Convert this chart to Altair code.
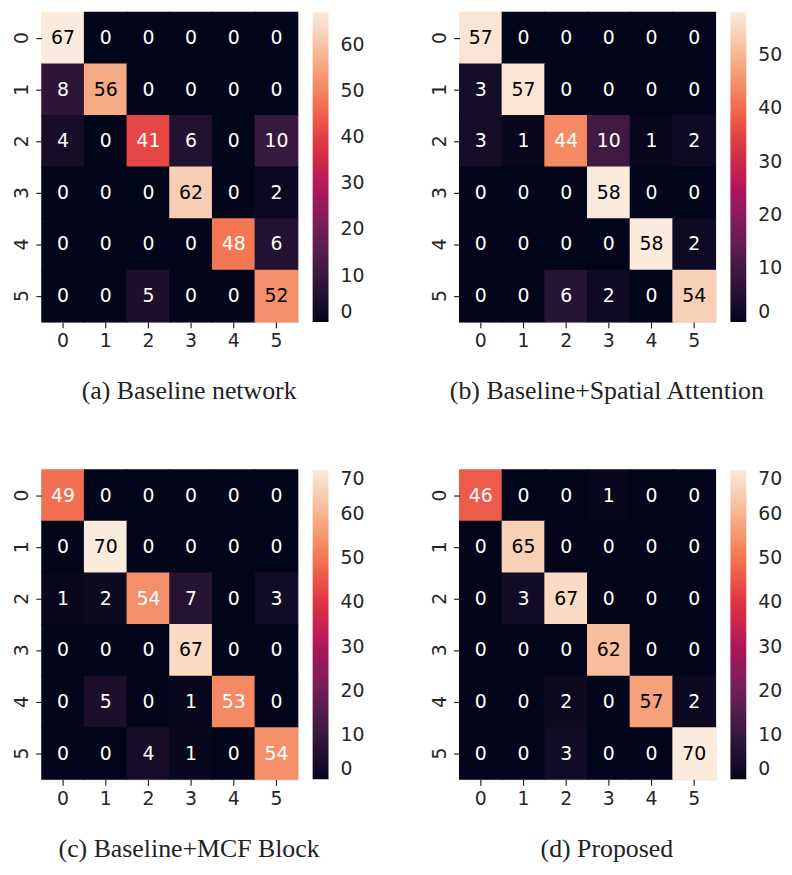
import altair as alt
import pandas as pd

CLASSES = ["0", "1", "2", "3", "4", "5"]

CM_A = [[67, 0, 0, 0, 0, 0],
        [8, 56, 0, 0, 0, 0],
        [4, 0, 41, 6, 0, 10],
        [0, 0, 0, 62, 0, 2],
        [0, 0, 0, 0, 48, 6],
        [0, 0, 5, 0, 0, 52]]
CM_B = [[57, 0, 0, 0, 0, 0],
        [3, 57, 0, 0, 0, 0],
        [3, 1, 44, 10, 1, 2],
        [0, 0, 0, 58, 0, 0],
        [0, 0, 0, 0, 58, 2],
        [0, 0, 6, 2, 0, 54]]
CM_C = [[49, 0, 0, 0, 0, 0],
        [0, 70, 0, 0, 0, 0],
        [1, 2, 54, 7, 0, 3],
        [0, 0, 0, 67, 0, 0],
        [0, 5, 0, 1, 53, 0],
        [0, 0, 4, 1, 0, 54]]
CM_D = [[46, 0, 0, 1, 0, 0],
        [0, 65, 0, 0, 0, 0],
        [0, 3, 67, 0, 0, 0],
        [0, 0, 0, 62, 0, 0],
        [0, 0, 2, 0, 57, 2],
        [0, 0, 3, 0, 0, 70]]

CAPTIONS = ["(a) Baseline network", "(b) Baseline+Spatial Attention",
            "(c) Baseline+MCF Block", "(d) Proposed"]
CBAR_TICKS_A = [0, 10, 20, 30, 40, 50, 60]
CBAR_TICKS_B = [0, 10, 20, 30, 40, 50]
CBAR_TICKS_C = [0, 10, 20, 30, 40, 50, 60, 70]
CBAR_TICKS_D = [0, 10, 20, 30, 40, 50, 60, 70]

# seaborn "rocket" colormap stops
ROCKET = ["#03051a", "#35193e", "#701f57", "#ad1759",
          "#e13342", "#f37651", "#f6b48f", "#faebdd"]

TICK_FONT = "DejaVu Sans"
CAP_FONT = "Liberation Serif"
FS = 19


def panel(cm, caption, ticks):
    rows = [(CLASSES[i], CLASSES[j], cm[i][j]) for i in range(6) for j in range(6)]
    df = pd.DataFrame(rows, columns=["actual", "predicted", "count"])
    vmax = max(max(r) for r in cm)
    dom = [vmax * k / 7 for k in range(8)]
    axis_common = dict(title=None, domain=False, grid=False, tickSize=6,
                       tickColor="#262626", tickWidth=1.2, labelFont=TICK_FONT,
                       labelFontSize=FS, labelColor="#262626", labelPadding=4)
    base = alt.Chart(df).encode(
        x=alt.X("predicted:O", sort=CLASSES,
                scale=alt.Scale(paddingInner=0, paddingOuter=0),
                axis=alt.Axis(labelAngle=0, **axis_common)),
        y=alt.Y("actual:O", sort=CLASSES,
                scale=alt.Scale(paddingInner=0, paddingOuter=0),
                axis=alt.Axis(labelAngle=-90, labelAlign="center",
                              labelBaseline="bottom", **axis_common)),
    )
    # cells slightly larger than their band so neighbours overlap (no seams)
    cells = base.mark_rect(width=44, height=53).encode(
        color=alt.Color(
            "count:Q",
            scale=alt.Scale(domain=dom, range=ROCKET, interpolate="rgb"),
            legend=alt.Legend(type="gradient", title=None, orient="right", offset=15,
                              gradientLength=312, gradientThickness=16,
                              gradientStrokeWidth=0, values=ticks,
                              labelFont=TICK_FONT, labelFontSize=FS,
                              labelColor="#262626", labelOverlap=False,
                              labelOffset=12),
        ),
    )
    text = base.mark_text(font=TICK_FONT, fontSize=FS).encode(
        text="count:Q",
        color=alt.condition(f"datum['count'] > {0.774 * vmax}",
                            alt.value("black"), alt.value("white")),
    )
    return alt.layer(cells, text).properties(
        width=258, height=312,
        title=alt.TitleParams(caption, orient="bottom", anchor="middle",
                              frame="bounds", font=CAP_FONT, fontSize=26,
                              fontWeight="normal", color="#222222", offset=28),
    )


pa = panel(CM_A, CAPTIONS[0], CBAR_TICKS_A)
pb = panel(CM_B, CAPTIONS[1], CBAR_TICKS_B)
pc = panel(CM_C, CAPTIONS[2], CBAR_TICKS_C)
pd_ = panel(CM_D, CAPTIONS[3], CBAR_TICKS_D)

row1 = alt.hconcat(pa, pb, spacing=64).resolve_scale(color="independent")
row2 = alt.hconcat(pc, pd_, spacing=64).resolve_scale(color="independent")

chart = alt.vconcat(row1, row2, spacing=64).resolve_scale(color="independent").properties(
    padding={"left": 4, "top": 0, "right": 0, "bottom": 0}
).configure_view(stroke=None, fill="#03051a").configure(background="white")

chart.save("out.html", embed_options={"renderer": "svg", "actions": False})
